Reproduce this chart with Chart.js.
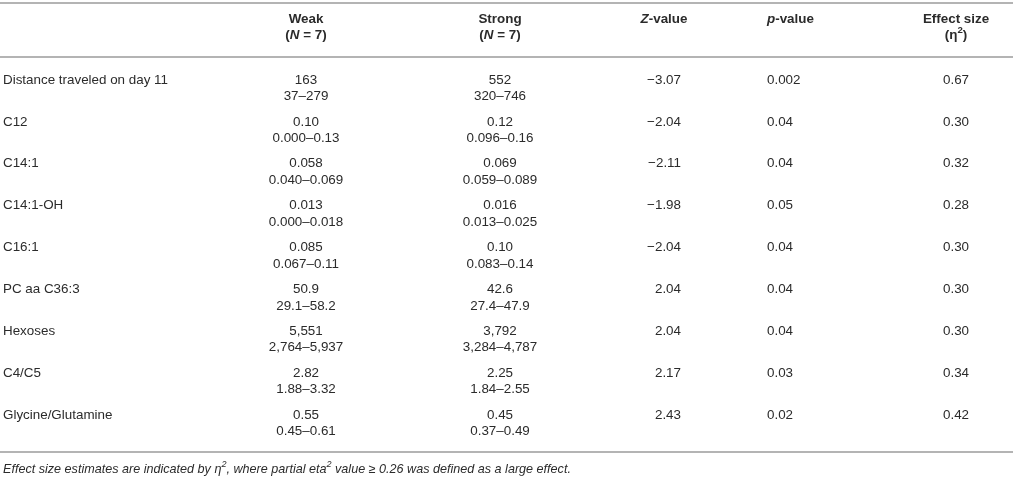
<!DOCTYPE html>
<html>
<head>
<meta charset="utf-8">
<script src="https://cdn.jsdelivr.net/npm/chart.js@4.4.1/dist/chart.umd.min.js"></script>
<style>
    html, body { margin: 0; background: #fff; }
    #wrap { width: 1016px; height: 481px; }
</style>
</head>
<body>
<div id="wrap"><canvas id="table"></canvas></div>
<script>
// DATA

const rowNames = ["Distance traveled on day 11", "C12", "C14:1", "C14:1-OH", "C16:1", "PC aa C36:3", "Hexoses", "C4/C5", "Glycine/Glutamine"];

const weakMedian = ["163", "0.10", "0.058", "0.013", "0.085", "50.9", "5,551", "2.82", "0.55"];
const weakRange = ["37–279", "0.000–0.13", "0.040–0.069", "0.000–0.018", "0.067–0.11", "29.1–58.2", "2,764–5,937", "1.88–3.32", "0.45–0.61"];

const strongMedian = ["552", "0.12", "0.069", "0.016", "0.10", "42.6", "3,792", "2.25", "0.45"];
const strongRange = ["320–746", "0.096–0.16", "0.059–0.089", "0.013–0.025", "0.083–0.14", "27.4–47.9", "3,284–4,787", "1.84–2.55", "0.37–0.49"];

const zValues = ["−3.07", "−2.04", "−2.11", "−1.98", "−2.04", "2.04", "2.04", "2.17", "2.43"];
const pValues = ["0.002", "0.04", "0.04", "0.05", "0.04", "0.04", "0.04", "0.03", "0.02"];
const effectSizes = ["0.67", "0.30", "0.32", "0.28", "0.30", "0.30", "0.30", "0.34", "0.42"];


// LAYOUT

const FONT = "'Liberation Sans', Arial, Helvetica, sans-serif";
const TEXT = "#2b2b2b";
const RULE = "#b4b4b4";
const BODY_SIZE = 13.4;
const NOTE_SIZE = 12.6;

// column anchors on the x scale (0..1016)
const col = {label: 3, weak: 306, strong: 500, z: 681, zHead: 664, p: 767, effect: 956};

const headers = [
    {x: col.weak, align: "center", lines: [[{t: "Weak", b: true}], [{t: "(", b: true}, {t: "N", b: true, i: true}, {t: " = 7)", b: true}]]},
    {x: col.strong, align: "center", lines: [[{t: "Strong", b: true}], [{t: "(", b: true}, {t: "N", b: true, i: true}, {t: " = 7)", b: true}]]},
    {x: col.zHead, align: "center", lines: [[{t: "Z", b: true, i: true}, {t: "-value", b: true}]]},
    {x: col.p, align: "left", lines: [[{t: "p", b: true, i: true}, {t: "-value", b: true}]]},
    {x: col.effect, align: "center", lines: [[{t: "Effect size", b: true}], [{t: "(η", b: true}, {t: "2", b: true, sup: true}, {t: ")", b: true}]]},
];

const footnote = [
    {t: "Effect size estimates are indicated by η", i: true}, {t: "2", i: true, sup: true},
    {t: ", where partial eta", i: true}, {t: "2", i: true, sup: true},
    {t: " value ≥ 0.26 was defined as a large effect.", i: true},
];


const setFont = (ctx, run, size) => {
    const s = run.sup ? size * 0.72 : size;
    ctx.font = `${run.i ? "italic " : ""}${run.b ? "bold " : ""}${s}px ${FONT}`;
}


const drawRuns = (ctx, runs, x, y, align, size) => {
    let width = 0;
    runs.forEach(run => {
        setFont(ctx, run, size);
        width += ctx.measureText(run.t).width;
    });

    let cursor = align === "center" ? x - width / 2 : align === "right" ? x - width : x;
    ctx.textAlign = "left";

    runs.forEach(run => {
        setFont(ctx, run, size);
        ctx.fillText(run.t, cursor, run.sup ? y - size * 0.38 : y);
        cursor += ctx.measureText(run.t).width;
    });
}


const drawRule = (ctx, area, y) => {
    ctx.beginPath();
    ctx.moveTo(area.left, y);
    ctx.lineTo(area.right - 3, y);
    ctx.stroke();
}


const tablePlugin = {
    id: "tableCells",
    afterDatasetsDraw(chart) {
        const {ctx, chartArea, scales} = chart;
        ctx.save();
        ctx.fillStyle = TEXT;
        ctx.textBaseline = "middle";

        // body cells, placed at each point of each dataset
        chart.data.datasets.forEach((ds, i) => {
            const meta = chart.getDatasetMeta(i);
            ctx.font = `${BODY_SIZE}px ${FONT}`;
            ctx.textAlign = ds.align;
            meta.data.forEach((pt, j) => {
                ctx.fillText(ds.texts[j], pt.x, pt.y);
                if (ds.sub) {
                    ctx.fillText(ds.sub[j], pt.x, pt.y + 16.5);
                }
            });
        });

        // header
        headers.forEach(h => {
            const x = scales.x.getPixelForValue(h.x);
            h.lines.forEach((line, k) => {
                drawRuns(ctx, line, x, chartArea.top - 40 + k * 16, h.align, BODY_SIZE);
            });
        });

        // rules
        ctx.strokeStyle = RULE;
        ctx.lineWidth = 2;
        drawRule(ctx, chartArea, chartArea.top - 56);
        drawRule(ctx, chartArea, chartArea.top - 2);
        drawRule(ctx, chartArea, chartArea.bottom + 16);

        // footnote
        ctx.fillStyle = TEXT;
        drawRuns(ctx, footnote, scales.x.getPixelForValue(col.label), chartArea.bottom + 33, "left", NOTE_SIZE);

        ctx.restore();
    }
};


const column = (x, texts, align, sub) => ({
    data: rowNames.map(name => ({x: x, y: name})),
    texts: texts,
    sub: sub,
    align: align,
    pointRadius: 0,
    showLine: false,
});


new Chart(document.getElementById("table"), {
    type: "scatter",
    data: {
        datasets: [
            column(col.label, rowNames, "left"),
            column(col.weak, weakMedian, "center", weakRange),
            column(col.strong, strongMedian, "center", strongRange),
            column(col.z, zValues, "right"),
            column(col.p, pValues, "left"),
            column(col.effect, effectSizes, "center"),
        ],
    },
    options: {
        responsive: true,
        maintainAspectRatio: false,
        animation: false,
        events: [],
        layout: {padding: {top: 59, bottom: 45, left: 0, right: 0}},
        plugins: {legend: {display: false}, tooltip: {enabled: false}},
        scales: {
            x: {type: "linear", min: 0, max: 1016, display: false},
            y: {type: "category", labels: rowNames, offset: true, display: false},
        },
    },
    plugins: [tablePlugin],
});
</script>
</body>
</html>
